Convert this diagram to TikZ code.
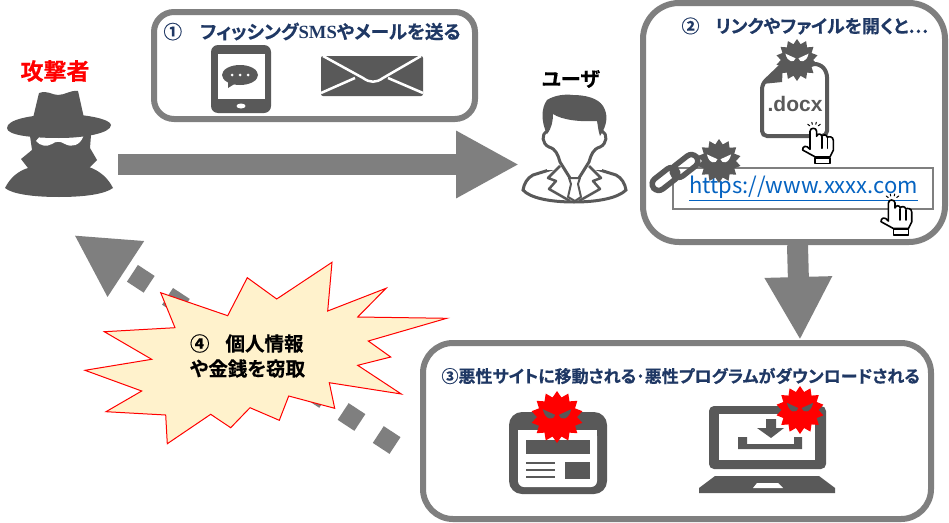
\documentclass[tikz,border=0pt]{standalone}
\usepackage{fontspec}
\usepackage{xcolor}
\usetikzlibrary{arrows.meta, shapes.geometric}

\newfontfamily\jpfont[BoldFont={Noto Sans CJK JP Bold}, BoldFeatures={FakeBold=0.5}, RawFeature={+palt}]{Noto Sans CJK JP}
\newfontfamily\latinserif{Liberation Serif}
\newfontfamily\latinsans{Liberation Sans}

\definecolor{icongray}{HTML}{595959}
\definecolor{linegray}{HTML}{7F7F7F}
\definecolor{titleblue}{HTML}{1F3864}
\definecolor{urlblue}{HTML}{0563C1}
\definecolor{burstfill}{HTML}{FFF2CC}

\tikzset{
  stepbox/.style={draw=linegray, fill=white, line width=6pt},
  titletext/.style={text=titleblue, inner sep=0pt},
  bigarrow/.style={draw=linegray, line width=21pt, -{Triangle[width=63pt, length=63pt]}},
  iconspot/.style={inner sep=0pt, outer sep=0pt},
  chainlink/.style={draw=icongray, line width=5.5pt, rotate=38, rounded corners=6.5pt, minimum width=29pt, minimum height=13pt, iconspot},
}

% virus: #1 x, #2 y, #3 radius, #4 body colour, #5 eye colour
\newcommand{\virus}[5]{
  \node[star, star points=14, star point ratio=1.3, fill=#4, iconspot, minimum size=#3*2pt] at (#1, #2) {};
  \fill[#5] (#1-0.55*#3, #2-0.3*#3) -- (#1-0.07*#3, #2-0.08*#3) .. controls (#1-0.12*#3, #2+0.14*#3) and (#1-0.45*#3, #2+0.14*#3) .. cycle;
  \fill[#5] (#1+0.55*#3, #2-0.3*#3) -- (#1+0.07*#3, #2-0.08*#3) .. controls (#1+0.12*#3, #2+0.14*#3) and (#1+0.45*#3, #2+0.14*#3) .. cycle;
}

% pointing hand: #1 x, #2 y of the finger tip
\newcommand{\clickhand}[2]{
  \begin{scope}[shift={(#1, #2)}, line width=1.6pt, line join=round, line cap=round]
    \draw[fill=white] (-3.3, 21) -- (-3.3, 3) .. controls (-3.3, -1) and (3.3, -1) .. (3.3, 3)
      -- (3.3, 8) .. controls (4, 5) and (8, 5) .. (8.5, 8) .. controls (9.5, 6) and (13.5, 6) .. (14, 9)
      .. controls (15, 8) and (20, 8) .. (20, 12) -- (20, 22) -- (16.7, 28.5) -- (1.7, 28.5)
      -- (-10.7, 21.7) .. controls (-11, 18) and (-7, 16) .. (-3.3, 21);
    \draw (8.5, 9) -- (8.5, 20);
    \draw (14, 10) -- (14, 20);
    \draw[fill=white] (1.7, 29.5) rectangle (16.7, 35);
    \draw[line width=1pt] (-5.5, -4) -- (-3.5, -2.5);
    \draw[line width=1pt] (-1.5, -6) -- (-1, -4);
    \draw[line width=1pt] (3, -6) -- (2.5, -4);
    \draw[line width=1pt] (7, -4) -- (5, -2.5);
  \end{scope}
}

\begin{document}
\begin{tikzpicture}[x=1pt, y=-1pt, line width=1pt]
\useasboundingbox (0, 0) rectangle (949, 522);

% anchors of the attacker, the user and the free arrow ends
\node[iconspot, minimum width=114pt, minimum height=66pt] (attacker) at (61, 164.5) {};
\node[iconspot, minimum width=110pt, minimum height=78pt] (user) at (574, 164.5) {};
\coordinate (openstart) at (797.5, 240);
\coordinate (sitetip) at (800, 340);
\coordinate (stealstart) at (395, 445.5);
\coordinate (stealtip) at (74, 235);

% draw step boxes
\node[stepbox, rounded corners=20pt, minimum width=321pt, minimum height=107pt] (sendbox) at (314.5, 65.5) {};
\node[stepbox, rounded corners=36pt, minimum width=302pt, minimum height=239pt] (openbox) at (794, 122.5) {};
\node[stepbox, rounded corners=30pt, minimum width=508pt, minimum height=176pt] (sitebox) at (677, 431) {};

% draw arrows
\draw[bigarrow] (attacker) -- (user);
\draw[bigarrow] (openbox.south -| openstart) -- (sitetip);
\draw[linegray, line width=20pt, dash pattern=on 20pt off 22pt, -{Triangle[width=62pt, length=62pt]}] (stealstart) -- (stealtip);

% draw titles
\node[titletext, font=\jpfont\bfseries\fontsize{18.6}{20}\selectfont, anchor=west] (sendtitle) at (163, 31.5) {①\hspace{18pt}フィッシング{\latinserif\bfseries SMS}やメールを送る};
\node[titletext, font=\jpfont\bfseries\fontsize{18}{20}\selectfont, anchor=west] (opentitle) at (681, 26) {②\hspace{16pt}リンクやファイルを開くと…};
\node[titletext, font=\jpfont\bfseries\fontsize{17}{20}\selectfont, anchor=west] (sitetitle) at (441, 376) {③悪性サイトに移動される･悪性プログラムがダウンロードされる};

% draw actor labels
\node[font=\jpfont\bfseries\fontsize{23}{25}\selectfont, text=red, iconspot] (attackerlabel) at (55, 71) {攻撃者};
\node[font=\jpfont\bfseries\fontsize{20}{22}\selectfont, iconspot] (userlabel) at (571, 79) {ユーザ};

% draw attacker
\fill[icongray] (5, 188) .. controls (10, 178) and (18, 171) .. (28, 168) -- (89, 167)
  .. controls (100, 171) and (108, 178) .. (113, 188) .. controls (105, 194) and (85, 197) .. (59, 197)
  .. controls (33, 197) and (12, 194) .. cycle;
\fill[icongray] (21, 159) -- (32, 150) -- (30, 136) -- (91, 135) -- (90, 148) -- (97, 160) -- (89, 168) -- (28, 168) -- cycle;
\fill[white] (36, 141) -- (45, 130) -- (86, 130) -- (83, 137) .. controls (80, 145) and (72, 148) .. (65, 144)
  .. controls (60, 141) and (56, 141) .. (52, 144) .. controls (47, 147) and (40, 146) .. cycle;
\fill[icongray] (59, 114) .. controls (90, 114) and (111, 120) .. (111, 125) .. controls (111, 133) and (85, 138) .. (59, 138)
  .. controls (30, 138) and (7, 135) .. (7, 128) .. controls (7, 120) and (28, 115) .. cycle;
\fill[icongray] (33, 118) -- (39, 93) .. controls (48, 90) and (52, 95) .. (58, 95) .. controls (65, 95) and (70, 90) .. (78, 91) -- (84, 118) -- cycle;

% draw phone
\fill[icongray, rounded corners=7pt] (211, 45) rectangle (271, 113);
\fill[white] (218, 54) rectangle (265, 99);
\fill[white] (241, 106) ellipse (4.5 and 2.5);
\fill[icongray] (240, 75) ellipse (18 and 10);
\fill[icongray] (228, 81) -- (228, 88) -- (236, 83) -- cycle;
\foreach \dotx in {232, 240, 248}
  \fill[white] (\dotx, 75) circle (1.5);

% draw envelope
\fill[icongray, rounded corners=2pt] (321, 56) rectangle (423, 96);
\draw[white, line width=2.5pt] (323, 56) -- (363, 78) .. controls (370, 83) and (376, 83) .. (383, 78) -- (421, 56);
\draw[white, line width=2.5pt] (321, 93) -- (355, 78);
\draw[white, line width=2.5pt] (423, 93) -- (388, 78);

% draw user
\draw[fill=white, draw=icongray, line width=3pt] (562, 166) -- (533, 175) .. controls (527, 178) and (524, 184) .. (523, 190)
  .. controls (530, 198) and (550, 202) .. (574, 202) .. controls (598, 202) and (618, 198) .. (626, 190)
  .. controls (625, 184) and (622, 178) .. (616, 175) -- (587, 166);
\fill[white] (547, 125) rectangle (602, 170);
\draw[icongray, line width=3pt, line join=round] (547, 131) .. controls (541, 134) and (542, 144) .. (549, 147)
  .. controls (556, 149) and (558, 155) .. (560, 162) -- (565, 170) -- (570, 178);
\draw[icongray, line width=3pt, line join=round] (602, 131) .. controls (608, 134) and (607, 144) .. (600, 147)
  .. controls (593, 149) and (591, 155) .. (589, 162) -- (584, 170) -- (579, 178);
\draw[icongray, line width=2.5pt, line join=round] (560, 166) -- (548, 178) -- (556, 181) -- (549, 189) -- (570, 201);
\draw[icongray, line width=2.5pt, line join=round] (589, 166) -- (601, 178) -- (593, 181) -- (600, 189) -- (579, 201);
\draw[icongray, line width=2pt, line join=round] (569, 178) -- (580, 178) -- (578, 184) -- (581, 197) -- (575, 201) -- (568, 197) -- (571, 184) -- cycle;
\fill[icongray] (547, 134) .. controls (541, 122) and (541, 108) .. (547, 100) .. controls (555, 95) and (565, 94) .. (573, 95)
  .. controls (585, 95) and (598, 98) .. (603, 106) .. controls (608, 114) and (608, 124) .. (600, 136)
  .. controls (598, 130) and (598, 126) .. (597, 121) .. controls (580, 122) and (562, 120) .. (553, 114)
  .. controls (553, 120) and (552, 128) .. cycle;

% draw document
\draw[fill=white, draw=icongray, line width=4pt, rounded corners=5pt] (783, 64) -- (820, 64) -- (827, 72) -- (827, 136) -- (762, 136) -- (762, 84) -- cycle;
\fill[icongray] (783, 64) -- (762, 84) -- (782, 82) -- cycle;
\node[font=\latinsans\bfseries\fontsize{21}{23}\selectfont, text=icongray, iconspot] (docname) at (795, 104) {.docx};
\virus{797}{60}{21}{icongray}{white}
\clickhand{813.3}{128.3}

% draw url box
\node[draw=linegray, line width=2pt, fill=white, minimum width=260pt, minimum height=41pt, iconspot] (urlbox) at (803, 188.5) {};
\node[font=\jpfont\fontsize{22}{24}\selectfont, text=urlblue, iconspot] (urltext) at (803.5, 188.5) {\underline{https://www.xxxx.com}};
\clickhand{891.7}{200}

% draw chain
\node[chainlink] (linka) at (665, 179) {};
\node[chainlink] (linkb) at (685, 166) {};
\virus{719}{161}{22}{icongray}{white}

% draw burst
\draw[red, fill=burstfill, line join=miter] (160.7, 292.7) -- (227.7, 315.7) -- (247.3, 277.7) -- (276.7, 299) -- (332, 262.3)
  -- (327.7, 311) -- (386, 288.3) -- (357.7, 317) -- (446.7, 318.3) -- (368.3, 341) -- (390.7, 357)
  -- (357.7, 365.3) -- (401.3, 394) -- (329.3, 382.7) -- (334.7, 408.3) -- (288.7, 396) -- (279.3, 420.3)
  -- (250, 407.7) -- (230.7, 427.7) -- (210.7, 414.3) -- (167.3, 443.7) -- (165.7, 415) -- (106, 411.7)
  -- (141.7, 391) -- (85, 370.3) -- (151.7, 359.3) -- (104.3, 331.7) -- (175, 327.7) -- cycle;
\node[font=\jpfont\bfseries\fontsize{19.5}{25}\selectfont, align=left, anchor=west, iconspot] (stealtext) at (190, 356) {④\hspace{16pt}個人情報\\や金銭を窃取};

% draw browser
\fill[icongray, rounded corners=13pt] (509, 412) rectangle (607, 494);
\fill[white, rounded corners=6pt] (518, 430) -- (597, 430) -- (597, 487) -- (518, 487) -- cycle;
\fill[white] (518, 430) rectangle (597, 445);
\fill[icongray] (526, 440) rectangle (590, 454);
\foreach \rowy in {463, 470, 477}
  \fill[icongray] (526, \rowy-1.3) rectangle (555, \rowy+1.3);
\fill[icongray] (565, 462) rectangle (590, 479);
\virus{557}{417}{26}{red}{icongray}

% draw laptop
\fill[icongray, rounded corners=5pt] (709, 406) rectangle (826, 469);
\fill[white] (719, 414) rectangle (815, 460);
\fill[icongray] (715, 476) -- (819, 476) -- (835, 488) -- (835, 493) -- (699, 493) -- (699, 488) -- cycle;
\fill[white] (757, 483) -- (778, 483) -- (783, 488) -- (753, 488) -- cycle;
\fill[icongray] (766, 419) -- (776, 419) -- (776, 428) -- (784, 428) -- (771, 438) -- (757, 428) -- (766, 428) -- cycle;
\fill[icongray] (738, 437) -- (747, 437) -- (747, 444) -- (794, 444) -- (794, 437) -- (802, 437) -- (802, 449) -- (738, 449) -- cycle;
\virus{800}{410}{24}{red}{icongray}

\end{tikzpicture}
\end{document}
